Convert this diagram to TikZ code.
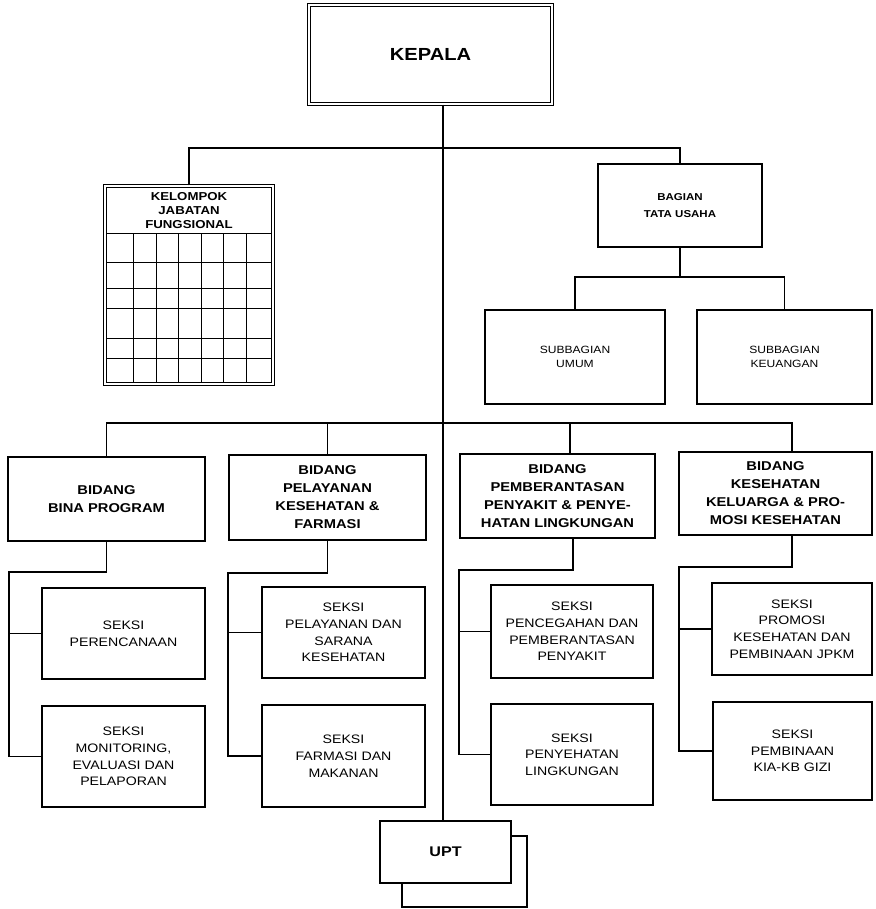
\documentclass[tikz,border=0pt]{standalone}
\usepackage{fontspec}
\setmainfont{Liberation Sans}[FakeStretch=1.15]
\begin{document}
\begin{tikzpicture}[x=1pt,y=-1pt,
  conn/.style={line width=1.3pt},
  box/.style={draw,line width=1.4pt,inner sep=0pt,align=center,fill=white},
  dbox/.style={draw,double,double distance=2.2pt,line width=1.2pt,inner sep=0pt,align=center},
  bid/.style={box,font=\fontsize{12.8}{18}\selectfont\bfseries},
  sek/.style={box,font=\fontsize{12.3}{16.7}\selectfont},
  sub/.style={box,font=\fontsize{10.5}{13.5}\selectfont},
  grid/.style={line width=0.8pt}]
\useasboundingbox (0,0) rectangle (875,909);
% top
\node[dbox,minimum width=243pt,minimum height=99pt,font=\fontsize{17.5}{20}\selectfont\bfseries] (kepala) at (430.5,54.5) {KEPALA};
\node[dbox,minimum width=168pt,minimum height=198pt] (kjf) at (189,285) {};
\node[font=\fontsize{11.5}{14}\selectfont\bfseries,align=center] (kjft) at (189,211) {KELOMPOK\\JABATAN\\FUNGSIONAL};
\node[box,minimum width=164pt,minimum height=83pt,font=\fontsize{10}{17}\selectfont\bfseries] (tu) at (680,205.5) {BAGIAN\\TATA USAHA};
\node[sub,minimum width=180pt,minimum height=94pt] (sbu) at (575,357) {SUBBAGIAN\\UMUM};
\node[sub,minimum width=175pt,minimum height=94pt] (sbk) at (784.5,357) {SUBBAGIAN\\KEUANGAN};
% grid in kelompok
\foreach \gx in {133,156,178,201,223,246} \draw[grid] (\gx,233) -- (\gx,382);
\foreach \gy in {233,262,288,308,338,358} \draw[grid] (107,\gy) -- (271,\gy);
% bidang
\node[bid,minimum width=197pt,minimum height=84pt] (b1) at (106.5,499) {BIDANG\\BINA PROGRAM};
\node[bid,minimum width=197pt,minimum height=85pt] (b2) at (327.5,497.5) {BIDANG\\PELAYANAN\\KESEHATAN \&\\FARMASI};
\node[bid,minimum width=195pt,minimum height=84pt] (b3) at (557.5,496) {BIDANG\\PEMBERANTASAN\\PENYAKIT \& PENYE-\\HATAN LINGKUNGAN};
\node[bid,minimum width=193pt,minimum height=83pt] (b4) at (775.5,493.5) {BIDANG\\KESEHATAN\\KELUARGA \& PRO-\\MOSI KESEHATAN};
% seksi
\node[sek,minimum width=163pt,minimum height=91pt] (s1a) at (123.5,633.5) {SEKSI\\PERENCANAAN};
\node[sek,minimum width=163pt,minimum height=101pt] (s1b) at (123.5,756.5) {SEKSI\\MONITORING,\\EVALUASI DAN\\PELAPORAN};
\node[sek,minimum width=163pt,minimum height=91pt] (s2a) at (343.5,632.5) {SEKSI\\PELAYANAN DAN\\SARANA\\KESEHATAN};
\node[sek,minimum width=163pt,minimum height=102pt] (s2b) at (343.5,756) {SEKSI\\FARMASI DAN\\MAKANAN};
\node[sek,minimum width=162pt,minimum height=93pt] (s3a) at (572,631.5) {SEKSI\\PENCEGAHAN DAN\\PEMBERANTASAN\\PENYAKIT};
\node[sek,minimum width=162pt,minimum height=101pt] (s3b) at (572,754.5) {SEKSI\\PENYEHATAN\\LINGKUNGAN};
\node[sek,minimum width=160pt,minimum height=92pt] (s4a) at (792,629) {SEKSI\\PROMOSI\\KESEHATAN DAN\\PEMBINAAN JPKM};
\node[sek,minimum width=159pt,minimum height=98pt] (s4b) at (792.5,751) {SEKSI\\PEMBINAAN\\KIA-KB GIZI};
% UPT
\node[box,minimum width=125pt,minimum height=71pt] (uptb) at (464.5,871.5) {};
\node[box,minimum width=131pt,minimum height=62pt,font=\fontsize{14}{16}\selectfont\bfseries] (upt) at (445.5,852) {UPT};
% connectors
\coordinate (trunk) at (443,0);
\draw[conn] (trunk |- kepala.south) -- (trunk |- upt.north);
\draw[conn] (kjf.north) |- (tu.north |- 0,148) -- (tu.north);
\draw[conn] (tu.south) -- (tu.south |- 0,277);
\draw[conn] (sbu.north) |- (sbk.north |- 0,277) -- (sbk.north);
\coordinate (b3t) at ([xshift=12.5pt]b3.north);
\coordinate (b4t) at ([xshift=16.5pt]b4.north);
\draw[conn] (b1.north) |- (b4t |- 0,423) -- (b4t);
\draw[conn] (b2.north) -- (b2.north |- 0,423);
\draw[conn] (b3t) -- (b3t |- 0,423);
% bidang 1
\coordinate (l1) at (9,572);
\draw[conn] (b1.south) |- (l1) |- (s1b.west);
\draw[conn] (l1 |- s1a.west) -- (s1a.west);
% bidang 2
\coordinate (l2) at (228,573);
\draw[conn] (b2.south) |- (l2) |- (s2b.west);
\draw[conn] (l2 |- s2a.west) -- (s2a.west);
% bidang 3
\coordinate (b3b) at ([xshift=15.5pt]b3.south);
\coordinate (l3) at (459,570);
\draw[conn] (b3b) |- (l3) |- (s3b.west);
\draw[conn] (l3 |- s3a.west) -- (s3a.west);
% bidang 4
\coordinate (b4b) at ([xshift=16.5pt]b4.south);
\coordinate (l4) at (679,567);
\draw[conn] (b4b) |- (l4) |- (s4b.west);
\draw[conn] (l4 |- s4a.west) -- (s4a.west);
\end{tikzpicture}
\end{document}
